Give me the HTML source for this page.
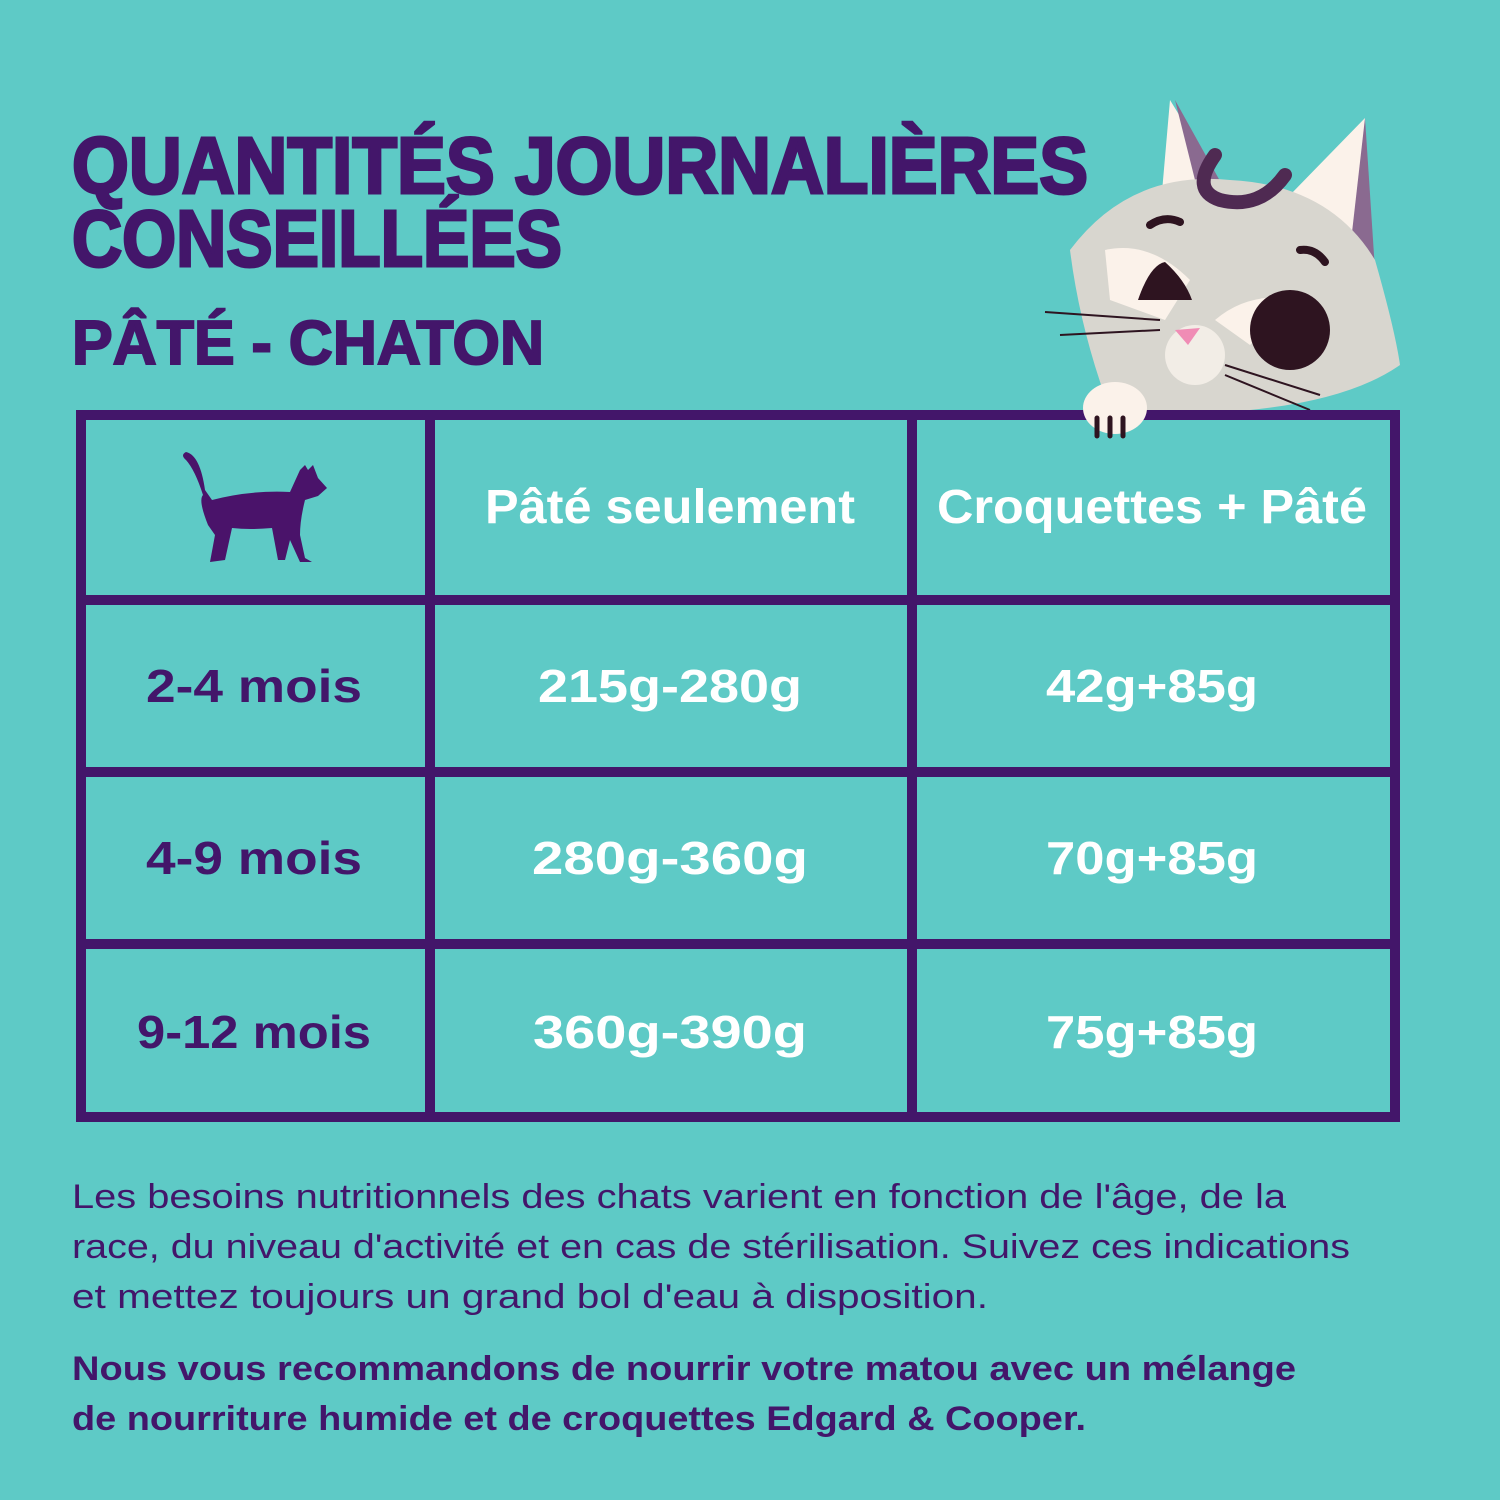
<!DOCTYPE html>
<html><head><meta charset="utf-8"><style>
html,body{margin:0;padding:0;background:#5ecac6;}
svg{display:block}
</style></head><body>
<svg width="1500" height="1500" viewBox="0 0 1500 1500" xmlns="http://www.w3.org/2000/svg">
<rect width="1500" height="1500" fill="#5ecac6"/>
<g font-family="Liberation Sans, sans-serif" font-weight="bold" fill="#43166a" stroke="#43166a" stroke-width="3">
<text x="72" y="193" font-size="80" textLength="1016" lengthAdjust="spacingAndGlyphs">QUANTITÉS JOURNALIÈRES</text>
<text x="72" y="266" font-size="80" textLength="490" lengthAdjust="spacingAndGlyphs">CONSEILLÉES</text>
<text x="72" y="364" font-size="62" stroke-width="2" textLength="472" lengthAdjust="spacingAndGlyphs">PÂTÉ - CHATON</text>
</g>
<!-- cat illustration -->
<g>
<path d="M1170 100 L1225 190 L1160 215 Z" fill="#fbf2ea"/>
<path d="M1175 100 L1225 190 L1200 200 Z" fill="#8a6a90"/>
<path d="M1365 118 L1370 270 L1290 195 Z" fill="#fbf2ea"/>
<path d="M1365 118 L1375 270 L1350 250 Z" fill="#8a6a90"/>
<path d="M1070 250 Q1130 170 1230 180 Q1330 185 1375 260 Q1395 330 1400 365 Q1350 400 1250 410 L1110 410 Q1080 330 1070 250 Z" fill="#d8d6cf"/>
<path d="M1215 155 Q1190 190 1220 200 Q1260 210 1285 175" stroke="#4f2a52" stroke-width="14" fill="none" stroke-linecap="round"/>
<path d="M1150 225 Q1165 215 1180 222 M1300 250 Q1315 248 1325 262" stroke="#2e1420" stroke-width="8" fill="none" stroke-linecap="round"/>
<path d="M1105 250 Q1150 240 1190 280 L1165 320 L1110 300 Z" fill="#fbf2ea"/>
<path d="M1138 300 Q1150 265 1165 262 Q1185 280 1192 300 Z" fill="#2e1420"/>
<path d="M1215 320 Q1250 290 1300 300 L1250 345 Z" fill="#fbf2ea"/>
<ellipse cx="1290" cy="330" rx="40" ry="40" fill="#2e1420"/>
<circle cx="1195" cy="355" r="30" fill="#f2ede6"/>
<path d="M1175 330 L1200 328 L1188 345 Z" fill="#f08cb5"/>
<path d="M1160 320 L1045 312 M1160 330 L1060 335 M1225 365 L1320 395 M1225 375 L1310 410" stroke="#2e1420" stroke-width="2"/>
</g>
<!-- table -->
<g fill="#43166a">
<rect x="76" y="410" width="1324" height="10"/>
<rect x="76" y="1112" width="1324" height="10"/>
<rect x="76" y="410" width="10" height="712"/>
<rect x="1390" y="410" width="10" height="712"/>
<rect x="425" y="410" width="10" height="712"/>
<rect x="907" y="410" width="10" height="712"/>
<rect x="76" y="595" width="1324" height="10"/>
<rect x="76" y="767" width="1324" height="10"/>
<rect x="76" y="939" width="1324" height="10"/>
</g>
<ellipse cx="1115" cy="408" rx="32" ry="26" fill="#fbf2ea"/>
<path d="M1097 418 v18 M1110 418 v18 M1123 418 v18" stroke="#2e1420" stroke-width="5" stroke-linecap="round"/>
<!-- walking cat icon -->
<path d="M186 460 Q180 455 186 452 Q200 455 205 490 L212 500 Q250 490 290 492 L300 470 L305 465 L308 470 L313 465 L318 478 L327 488 L318 496 L305 500 Q300 520 300 535 L305 558 L312 562 L300 562 L290 540 L285 560 L278 560 L272 528 Q250 530 232 528 L225 560 L210 562 L215 535 L208 525 Q198 500 203 495 Q195 470 186 460 Z" fill="#4a136a"/>
<g font-family="Liberation Sans, sans-serif" font-weight="bold" text-anchor="middle">
<text x="670" y="523" font-size="48" fill="#fff" textLength="370" lengthAdjust="spacingAndGlyphs">Pâté seulement</text>
<text x="1152" y="523" font-size="48" fill="#fff" textLength="430" lengthAdjust="spacingAndGlyphs">Croquettes + Pâté</text>
<text x="254" y="702" font-size="46" fill="#43166a" textLength="216" lengthAdjust="spacingAndGlyphs">2-4 mois</text>
<text x="254" y="874" font-size="46" fill="#43166a" textLength="216" lengthAdjust="spacingAndGlyphs">4-9 mois</text>
<text x="254" y="1048" font-size="46" fill="#43166a" textLength="234" lengthAdjust="spacingAndGlyphs">9-12 mois</text>
<text x="670" y="702" font-size="46" fill="#fff" textLength="264" lengthAdjust="spacingAndGlyphs">215g-280g</text>
<text x="670" y="874" font-size="46" fill="#fff" textLength="276" lengthAdjust="spacingAndGlyphs">280g-360g</text>
<text x="670" y="1048" font-size="46" fill="#fff" textLength="274" lengthAdjust="spacingAndGlyphs">360g-390g</text>
<text x="1152" y="702" font-size="46" fill="#fff" textLength="212" lengthAdjust="spacingAndGlyphs">42g+85g</text>
<text x="1152" y="874" font-size="46" fill="#fff" textLength="212" lengthAdjust="spacingAndGlyphs">70g+85g</text>
<text x="1152" y="1048" font-size="46" fill="#fff" textLength="212" lengthAdjust="spacingAndGlyphs">75g+85g</text>
</g>
<g font-family="Liberation Sans, sans-serif" font-size="34" fill="#43166a">
<text x="72" y="1208" textLength="1214" lengthAdjust="spacingAndGlyphs">Les besoins nutritionnels des chats varient en fonction de l'âge, de la</text>
<text x="72" y="1258" textLength="1278" lengthAdjust="spacingAndGlyphs">race, du niveau d'activité et en cas de stérilisation. Suivez ces indications</text>
<text x="72" y="1308" textLength="916" lengthAdjust="spacingAndGlyphs">et mettez toujours un grand bol d'eau à disposition.</text>
<text x="72" y="1380" font-weight="bold" textLength="1224" lengthAdjust="spacingAndGlyphs">Nous vous recommandons de nourrir votre matou avec un mélange</text>
<text x="72" y="1430" font-weight="bold" textLength="1014" lengthAdjust="spacingAndGlyphs">de nourriture humide et de croquettes Edgard &amp; Cooper.</text>
</g>
</svg>
</body></html>
